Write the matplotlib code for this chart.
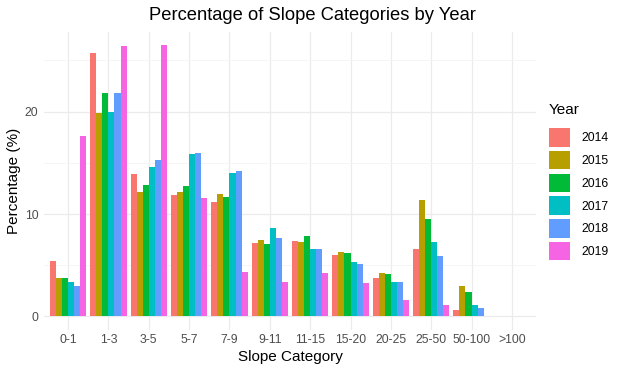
import matplotlib
matplotlib.use("Agg")
import matplotlib.pyplot as plt
import numpy as np

categories = ["0-1", "1-3", "3-5", "5-7", "7-9", "9-11", "11-15", "15-20", "20-25", "25-50", "50-100", ">100"]
years = ["2014", "2015", "2016", "2017", "2018", "2019"]
v2014 = [5.46, 25.76, 13.95, 11.90, 11.22, 7.22, 7.41, 6.05, 3.80, 6.63, 0.59, 0]
v2015 = [3.77, 19.84, 12.20, 12.20, 11.97, 7.51, 7.32, 6.34, 4.29, 11.41, 3.02, 0]
v2016 = [3.71, 21.79, 12.88, 12.78, 11.70, 7.09, 7.90, 6.24, 4.10, 9.56, 2.34, 0]
v2017 = [3.41, 20.00, 14.57, 15.87, 13.97, 8.59, 6.63, 5.27, 3.32, 7.32, 1.07, 0]
v2018 = [3.02, 21.79, 15.32, 15.97, 14.24, 7.71, 6.63, 5.17, 3.32, 5.95, 0.78, 0]
v2019 = [17.66, 26.37, 26.47, 11.61, 4.39, 3.41, 4.29, 3.22, 1.56, 1.07, 0, 0]
series = [v2014, v2015, v2016, v2017, v2018, v2019]
colors = ["#F8766D", "#B79F00", "#00BA38", "#00BFC4", "#619CFF", "#F564E3"]

plt.rcParams['font.family'] = ['Liberation Sans', 'DejaVu Sans']

fig = plt.figure(figsize=(6.27, 3.75), dpi=100)
ax = fig.add_axes([0.070, 0.12, 0.785, 0.795])

x = np.arange(len(categories))
bw = 0.9 / len(years)
for i, (vals, c, yr) in enumerate(zip(series, colors, years)):
    ax.bar(x - 0.45 + bw * (i + 0.5), vals, width=bw, color=c, label=yr, zorder=2)

ymax = max(max(s) for s in series)
ax.set_xlim(-0.6, len(categories) - 1 + 0.6)
ax.set_ylim(-0.05 * ymax, ymax * 1.05)
ax.set_xticks(x)
ax.set_xticklabels(categories)
ax.set_yticks([0, 10, 20])
ax.set_yticks([5, 15, 25], minor=True)
ax.grid(True, which='major', color='#EBEBEB', linewidth=0.9, zorder=0)
ax.grid(True, which='minor', axis='y', color='#F4F4F4', linewidth=0.6, zorder=0)
ax.set_axisbelow(True)
for s in ax.spines.values():
    s.set_visible(False)
ax.tick_params(axis='both', which='both', length=0, labelsize=8.8, labelcolor='#4D4D4D', pad=4)
ax.tick_params(axis='x', pad=3)

ax.set_xlabel("Slope Category", fontsize=11, color='black', labelpad=3)
ax.set_ylabel("Percentage (%)", fontsize=11, color='black', labelpad=3)
fig.text(0.498, 0.958, "Percentage of Slope Categories by Year", ha='center', va='center', fontsize=13.2)

leg = ax.legend(title="Year", loc='upper left', bbox_to_anchor=(1.008, 0.79), frameon=False,
                fontsize=8.8, title_fontsize=11, handlelength=1.75, handleheight=1.95,
                handletextpad=0.9, labelspacing=0.35, borderaxespad=0.3)
leg._legend_box.align = "left"
leg._legend_box.sep = 8

fig.savefig("out.png", dpi=100)
